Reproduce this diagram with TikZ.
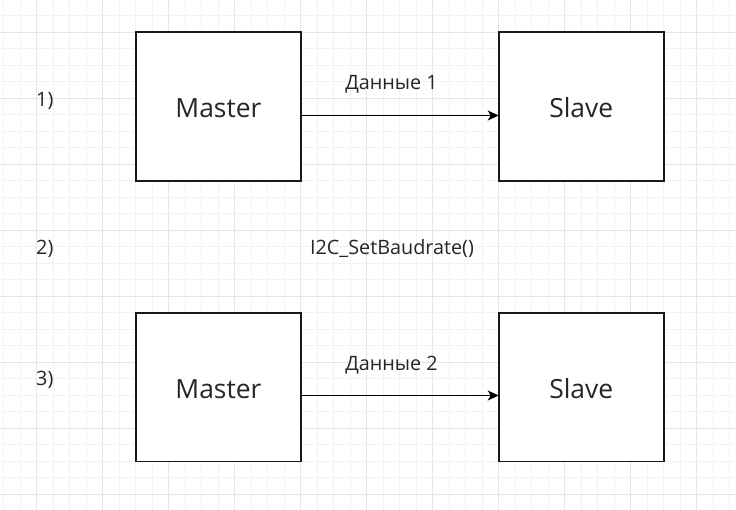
\documentclass[tikz,border=0pt]{standalone}
\usepackage{fontspec}
\setmainfont{Open Sans}
\usetikzlibrary{arrows.meta}
\begin{document}
\begin{tikzpicture}[x=1pt,y=-1pt,
  minorgrid/.style={draw=black!5, line width=1pt},
  majorgrid/.style={draw=black!10, line width=1pt},
  block/.style={draw=black!90, line width=1.6pt, fill=white, minimum width=165pt, minimum height=148.5pt, inner sep=0pt, outer sep=0pt, font=\fontsize{26.4pt}{30pt}\selectfont, text=black!85, text height=22pt, text depth=0pt},
  lbl/.style={inner sep=0pt, font=\fontsize{19.8pt}{23pt}\selectfont, text=black!85},
  flow/.style={draw=black, line width=1.1pt, -{Stealth[length=11pt,width=10pt,inset=3pt]}}
]
\useasboundingbox (0,0) rectangle (736,510);
\fill[white] (0,0) rectangle (736,510);
\foreach \i in {0,...,44} \draw[minorgrid] ({3.7+16.5*\i},0) -- ({3.7+16.5*\i},510);
\foreach \i in {0,...,31} \draw[minorgrid] (0,{-0.7+16.5*\i}) -- (736,{-0.7+16.5*\i});
\foreach \i in {0,...,10} \draw[majorgrid] ({36.7+66*\i},0) -- ({36.7+66*\i},510);
\foreach \i in {0,...,7} \draw[majorgrid] (0,{32.3+66*\i}) -- (736,{32.3+66*\i});

\node[block] (m1) at (218.45,106.55) {Master};
\node[block] (s1) at (581.2,106.55) {Slave};
\node[block] (m2) at (218.45,387.05) {Master};
\node[block] (s2) at (581.2,387.05) {Slave};

\draw[flow] ([yshift=-8.95pt]m1.east) -- ([yshift=-8.95pt]s1.west);
\draw[flow] ([yshift=-8.45pt]m2.east) -- ([yshift=-8.45pt]s2.west);

\node[lbl, anchor=base] (d1) at (391.5,90) {Данные 1};
\node[lbl, anchor=base] (d2) at (391.5,370.5) {Данные 2};
\node[lbl, anchor=base] (baud) at (392,255) {I2C\_SetBaudrate()};
\node[lbl, anchor=base west] (n1) at (36,106.5) {1)};
\node[lbl, anchor=base west] (n2) at (36,254.5) {2)};
\node[lbl, anchor=base west] (n3) at (36,385) {3)};
\end{tikzpicture}
\end{document}
